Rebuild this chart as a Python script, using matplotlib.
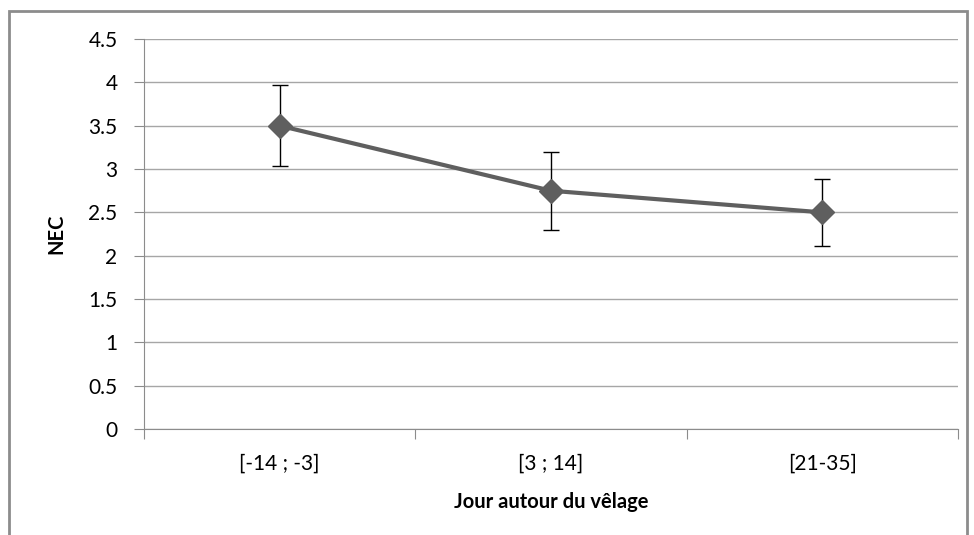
import matplotlib.pyplot as plt
from matplotlib.patches import Rectangle

# Data
categories = ["[-14 ; -3]", "[3 ; 14]", "[21-35]"]
nec_mean = [3.5, 2.75, 2.5]
nec_err = [0.47, 0.45, 0.39]
y_ticks = [0, 0.5, 1, 1.5, 2, 2.5, 3, 3.5, 4, 4.5]
y_tick_labels = ["0", "0.5", "1", "1.5", "2", "2.5", "3", "3.5", "4", "4.5"]

plt.rcParams["font.family"] = ["Lato", "DejaVu Sans"]

fig = plt.figure(figsize=(9.74, 5.35), dpi=100)
ax = fig.add_axes([0.1478, 0.198, 0.8358, 0.729])

# Outer chart border
fig.patches.append(Rectangle((0.009, -0.02), 0.984, 1.0, transform=fig.transFigure,
                             fill=False, edgecolor="#8c8c8c", linewidth=2))

x = list(range(len(categories)))
ax.errorbar(x, nec_mean, yerr=nec_err, fmt="none", ecolor="black",
            elinewidth=1, capsize=6, capthick=1, zorder=3)
ax.plot(x, nec_mean, color="#5f5f5f", linewidth=3, marker="D",
        markersize=12, markerfacecolor="#5f5f5f", markeredgecolor="#5f5f5f", zorder=4)

ax.set_xlim(-0.5, len(categories) - 0.5)
ax.set_ylim(0, 4.5)

# Gridlines and spines
ax.set_yticks(y_ticks)
ax.set_yticklabels(y_tick_labels, fontsize=15)
ax.grid(visible=True, which="major", axis="y", color="#a6a6a6", linewidth=1)
ax.set_axisbelow(True)
for side in ["top", "right"]:
    ax.spines[side].set_visible(False)
for side in ["left", "bottom"]:
    ax.spines[side].set_color("#8c8c8c")
ax.tick_params(axis="y", length=7, color="#8c8c8c", pad=12)

# Ticks at category boundaries, labels at centres
ax.set_xticks([i - 0.5 for i in range(len(categories) + 1)])
ax.set_xticklabels([])
ax.set_xticks(x, minor=True)
ax.set_xticklabels(categories, minor=True, fontsize=15)
ax.tick_params(axis="x", which="major", length=7, color="#8c8c8c")
ax.tick_params(axis="x", which="minor", length=0, pad=18)

ax.set_ylabel("NEC", fontsize=14.5, fontweight="bold", labelpad=16)
ax.set_xlabel("Jour autour du vêlage", fontsize=14.5, fontweight="bold", labelpad=13)

plt.savefig("out.png")
plt.close()
